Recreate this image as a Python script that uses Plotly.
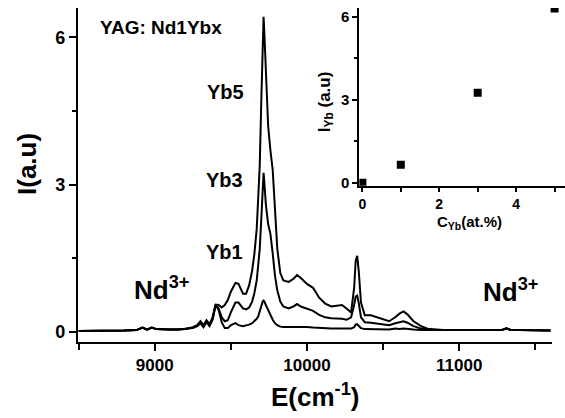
import plotly.graph_objects as go

# ---------------- data ----------------
energy = [8500, 8600, 8700, 8800, 8880, 8920, 8950, 8980, 9010, 9050, 9100, 9150, 9200,
          9250, 9280, 9300, 9320, 9340, 9360, 9380, 9400, 9420, 9440, 9460, 9480, 9500,
          9530, 9550, 9580, 9600, 9620, 9640, 9655, 9670, 9680, 9690, 9700, 9710, 9715,
          9720, 9730, 9745, 9760, 9775, 9790, 9805, 9825, 9845, 9880, 9910, 9935, 9960,
          10000, 10040, 10080, 10120, 10160, 10200, 10230, 10260, 10290, 10310, 10320,
          10330, 10340, 10355, 10380, 10420, 10460, 10500, 10540, 10580, 10610, 10635,
          10660, 10700, 10750, 10800, 10850, 10900, 11000, 11100, 11200, 11280, 11310,
          11340, 11400, 11500, 11600]

yb1 = [0.02, 0.02, 0.02, 0.03, 0.04, 0.09, 0.05, 0.09, 0.06, 0.05, 0.05, 0.05, 0.06,
       0.08, 0.12, 0.18, 0.10, 0.20, 0.12, 0.25, 0.55, 0.45, 0.20, 0.08, 0.08, 0.14,
       0.18, 0.14, 0.12, 0.13, 0.15, 0.18, 0.22, 0.27, 0.32, 0.42, 0.55, 0.63, 0.64,
       0.62, 0.55, 0.45, 0.32, 0.25, 0.18, 0.14, 0.11, 0.10, 0.10, 0.10, 0.11, 0.10,
       0.10, 0.09, 0.08, 0.08, 0.07, 0.07, 0.07, 0.07, 0.07, 0.10, 0.15,
       0.16, 0.13, 0.08, 0.06, 0.06, 0.05, 0.05, 0.05, 0.07, 0.06, 0.07,
       0.06, 0.05, 0.04, 0.04, 0.04, 0.04, 0.04, 0.04, 0.04, 0.04, 0.07,
       0.04, 0.04, 0.04, 0.03]

yb3 = [0.02, 0.02, 0.02, 0.03, 0.04, 0.09, 0.05, 0.09, 0.06, 0.05, 0.05, 0.05, 0.06,
       0.09, 0.13, 0.20, 0.12, 0.22, 0.14, 0.27, 0.55, 0.48, 0.30, 0.22, 0.24, 0.40,
       0.60, 0.60, 0.48, 0.46, 0.50, 0.62, 0.80, 1.05, 1.40, 1.70, 2.30, 3.00, 3.24,
       3.05, 2.60, 2.20, 2.00, 1.60, 1.15, 0.85, 0.62, 0.52, 0.48, 0.52, 0.57, 0.52,
       0.48, 0.43, 0.35, 0.30, 0.28, 0.28, 0.27, 0.25, 0.30, 0.55, 0.72,
       0.74, 0.60, 0.30, 0.20, 0.19, 0.17, 0.15, 0.14, 0.18, 0.21, 0.22,
       0.19, 0.12, 0.07, 0.05, 0.04, 0.04, 0.04, 0.04, 0.04, 0.04, 0.07,
       0.04, 0.04, 0.04, 0.03]

yb5 = [0.02, 0.02, 0.02, 0.03, 0.04, 0.09, 0.05, 0.09, 0.06, 0.05, 0.05, 0.05, 0.06,
       0.10, 0.14, 0.22, 0.14, 0.24, 0.16, 0.30, 0.56, 0.55, 0.50, 0.55, 0.65, 0.82,
       1.00, 0.98, 0.78, 0.78, 0.95, 1.25, 1.60, 2.10, 2.70, 3.40, 4.70, 6.00, 6.42,
       6.10, 5.20, 4.20, 3.70, 3.30, 2.50, 1.70, 1.20, 1.05, 1.02, 1.08, 1.16, 1.10,
       0.98, 0.90, 0.70, 0.58, 0.52, 0.53, 0.55, 0.48, 0.40, 0.90, 1.45,
       1.55, 1.25, 0.60, 0.34, 0.34, 0.30, 0.25, 0.22, 0.30, 0.38, 0.42,
       0.36, 0.22, 0.12, 0.06, 0.05, 0.04, 0.04, 0.04, 0.04, 0.04, 0.08,
       0.04, 0.04, 0.04, 0.03]

c_yb = [0, 1, 3, 5]
i_yb = [0.0, 0.65, 3.25, 6.3]

main_xticks = [9000, 10000, 11000]
main_xlabels = ["9000", "10000", "11000"]
main_yticks = [0, 3, 6]
main_ylabels = ["0", "3", "6"]
inset_xticks = [0, 2, 4]
inset_xlabels = ["0", "2", "4"]
inset_yticks = [0, 3, 6]
inset_ylabels = ["0", "3", "6"]

# ---------------- figure ----------------
W, H = 565, 418
FONT = "Liberation Sans, Arial, sans-serif"

def px(x):
    return x / W

def py(y):
    return 1 - y / H

fig = go.Figure()
line = dict(color="black", width=2)
for ys in (yb1, yb3, yb5):
    fig.add_trace(go.Scatter(x=energy, y=ys, mode="lines", line=line,
                             showlegend=False, xaxis="x", yaxis="y"))

fig.add_trace(go.Scatter(x=c_yb, y=i_yb, mode="markers",
                         marker=dict(symbol="square", size=8, color="black"),
                         showlegend=False, xaxis="x2", yaxis="y2"))

axis_common = dict(showline=True, linecolor="black", linewidth=2, ticks="outside",
                   tickcolor="black", tickwidth=2, showgrid=False, zeroline=False,
                   mirror=False, tickmode="array")

fig.update_layout(
    width=W, height=H, margin=dict(l=0, r=0, t=0, b=0),
    paper_bgcolor="white", plot_bgcolor="rgba(0,0,0,0)",
    font=dict(family=FONT, color="black"),
    xaxis=dict(domain=[px(77), px(552)], range=[8495, 11610], anchor="y",
               tickvals=main_xticks, ticktext=main_xlabels, ticklen=7,
               tickfont=dict(size=17, family=FONT, weight="bold"),
               minor=dict(tickvals=[8500, 9500, 10500, 11500], ticks="outside",
                          ticklen=6, tickwidth=2, tickcolor="black"),
               **axis_common),
    yaxis=dict(domain=[py(346), py(8)], range=[-0.2, 6.6], anchor="x",
               tickvals=main_yticks, ticktext=main_ylabels, ticklen=7,
               tickfont=dict(size=18, family=FONT, weight="bold"),
               minor=dict(tickvals=[1.5, 4.5], ticks="outside",
                          ticklen=4, tickwidth=2, tickcolor="black"),
               **axis_common),
    xaxis2=dict(domain=[px(359), 1.0], range=[-0.078, 5.27], anchor="y2",
                tickvals=inset_xticks, ticktext=inset_xlabels, ticklen=4,
                tickfont=dict(size=14, family=FONT, weight="bold"),
                minor=dict(tickvals=[1, 3, 5], ticks="outside",
                           ticklen=4, tickwidth=2, tickcolor="black"),
                **axis_common),
    yaxis2=dict(domain=[py(188), py(8)], range=[-0.107, 6.32], anchor="x2",
                tickvals=inset_yticks, ticktext=inset_ylabels, ticklen=5,
                tickfont=dict(size=15, family=FONT, weight="bold"),
                minor=dict(tickvals=[1.5, 4.5], ticks="outside",
                           ticklen=3, tickwidth=2, tickcolor="black"),
                **axis_common),
)

def ann(text, x, y, size, angle=0):
    fig.add_annotation(text=text, x=px(x), y=py(y), xref="paper", yref="paper",
                       showarrow=False, xanchor="center", yanchor="middle",
                       textangle=angle, font=dict(size=size, family=FONT, color="black"))

ann("<b>YAG: Nd1Ybx</b>", 160, 28, 19)
ann("<b>Yb5</b>", 225, 93, 20)
ann("<b>Yb3</b>", 224, 182, 20)
ann("<b>Yb1</b>", 224, 255, 20)
ann("<b>Nd<sup>3+</sup></b>", 161, 292, 26)
ann("<b>Nd<sup>3+</sup></b>", 510, 294, 26)
ann("<b>E(cm<sup>-1</sup>)</b>", 315, 400, 26)
ann("<b>I(a.u)</b>", 26, 166, 26, angle=-90)
ann("<b>I<sub>Yb</sub> (a.u)</b>", 325, 103, 17, angle=-90)
ann("<b>C<sub>Yb</sub>(at.%)</b>", 469, 225, 15)

fig.write_html("out.html")
